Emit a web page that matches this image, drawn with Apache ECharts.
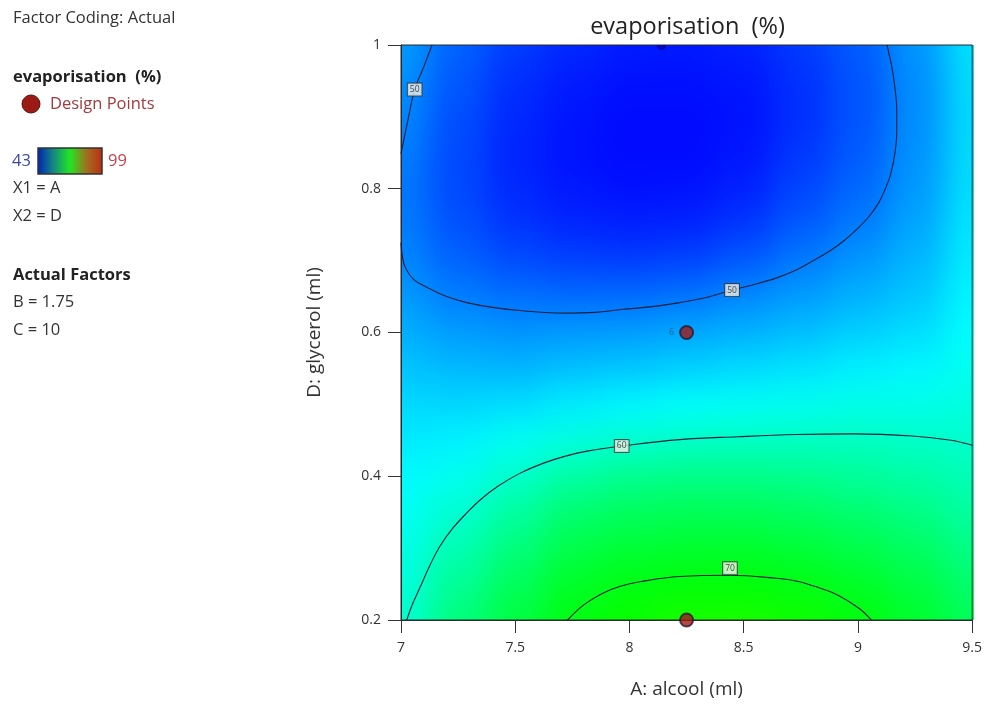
<!DOCTYPE html>
<html>
<head>
<meta charset="utf-8">
<script src="https://cdn.jsdelivr.net/npm/echarts@6/dist/echarts.min.js"></script>
<style>
  html, body { margin:0; padding:0; background:#ffffff; }
  #wrap { position:relative; width:985px; height:707px; overflow:hidden; }
  #bgClip { position:absolute; left:401px; top:45px; width:573px; height:575px; overflow:hidden; }
  #bg { position:absolute; left:-60px; top:-60px; width:693px; height:695px; filter:blur(16px); }
  #fg { position:absolute; left:0; top:0; width:985px; height:707px; }
</style>
</head>
<body>
<div id="wrap">
  <div id="bgClip"><div id="bg"></div></div>
  <div id="fg"></div>
</div>
<script>
// ---------- data ----------
// grid of A: alcool (ml) and D: glycerol (ml) where evaporisation (%) was read
const xValues = [7, 7.25, 7.5, 7.75, 8, 8.25, 8.5, 8.75, 9, 9.25, 9.5];
const yValues = [0.2, 0.25, 0.3, 0.35, 0.4, 0.45, 0.5, 0.55, 0.6, 0.65, 0.7, 0.75, 0.8, 0.85, 0.9, 0.95, 1.0];
// evaporisation (%) along each D row (x = 7 .. 9.5)
const evapD020 = [59.6, 64.3, 67.5, 70.1, 71.5, 72.2, 72.3, 71.7, 70.4, 68.6, 66.3];
const evapD025 = [59.0, 62.8, 66.0, 68.8, 70.0, 70.6, 70.6, 70.0, 68.9, 67.3, 65.0];
const evapD030 = [58.3, 61.2, 64.2, 67.0, 68.1, 68.5, 68.6, 68.0, 67.0, 65.6, 63.6];
const evapD035 = [57.6, 59.5, 62.2, 64.9, 65.9, 66.4, 66.3, 65.8, 64.9, 63.8, 62.2];
const evapD040 = [56.8, 57.9, 59.9, 62.0, 63.2, 63.6, 63.6, 63.2, 62.6, 61.9, 61.0];
const evapD045 = [55.9, 56.3, 57.6, 58.8, 59.6, 60.1, 60.3, 60.4, 60.4, 60.1, 59.8];
const evapD050 = [54.9, 54.8, 55.2, 56.0, 56.6, 57.2, 57.5, 57.8, 58.2, 58.2, 58.7];
const evapD055 = [53.8, 53.2, 53.0, 53.6, 54.0, 54.5, 55.0, 55.5, 56.2, 56.6, 57.8];
const evapD060 = [52.6, 51.6, 51.2, 51.5, 51.7, 52.2, 52.8, 53.5, 54.4, 55.2, 57.1];
const evapD065 = [51.5, 49.9, 49.2, 48.9, 49.0, 49.5, 50.5, 51.6, 52.8, 54.0, 56.5];
const evapD070 = [50.4, 48.5, 47.2, 46.6, 46.4, 46.8, 48.0, 49.7, 51.3, 53.0, 56.0];
const evapD075 = [49.8, 47.5, 45.9, 45.1, 44.8, 45.0, 46.0, 48.0, 49.8, 52.1, 55.6];
const evapD080 = [49.6, 47.0, 45.2, 44.3, 43.9, 44.0, 44.8, 46.8, 48.7, 51.4, 55.3];
const evapD085 = [49.9, 47.0, 45.0, 44.0, 43.6, 43.6, 44.2, 46.0, 48.0, 51.0, 55.1];
const evapD090 = [50.4, 47.3, 45.2, 44.1, 43.6, 43.6, 44.0, 45.6, 47.6, 50.8, 55.0];
const evapD095 = [50.9, 47.8, 45.6, 44.5, 43.9, 43.9, 44.2, 45.7, 47.6, 50.8, 55.1];
const evapD100 = [51.5, 48.4, 46.3, 45.2, 44.5, 44.4, 44.8, 46.2, 48.0, 51.2, 55.4];
const evapRows = [evapD020, evapD025, evapD030, evapD035, evapD040, evapD045, evapD050, evapD055, evapD060,
                  evapD065, evapD070, evapD075, evapD080, evapD085, evapD090, evapD095, evapD100];

// contour lines [A, D]
const contour50Left = [[7.136, 1.0], [7.1, 0.97], [7.06, 0.938], [7.03, 0.895], [7.0, 0.849]];
const contour50Loop = [[7.0, 0.725], [7.005, 0.708], [7.017, 0.692], [7.055, 0.674], [7.119, 0.662], [7.2, 0.65],
  [7.288, 0.6416], [7.4, 0.635], [7.542, 0.630], [7.712, 0.627], [7.85, 0.628], [7.966, 0.632], [8.1, 0.636],
  [8.22, 0.6416], [8.34, 0.649], [8.449, 0.659], [8.55, 0.667], [8.644, 0.676], [8.73, 0.687], [8.814, 0.7016],
  [8.88, 0.714], [8.94, 0.728], [8.99, 0.742], [9.045, 0.76], [9.09, 0.78], [9.12, 0.80], [9.143, 0.82],
  [9.162, 0.85], [9.17, 0.88], [9.17, 0.91], [9.162, 0.94], [9.148, 0.97], [9.127, 1.0]];
const contour60 = [[7.025, 0.2], [7.05, 0.222], [7.085, 0.2465], [7.125, 0.275], [7.169, 0.302], [7.225, 0.327],
  [7.288, 0.349], [7.35, 0.368], [7.424, 0.386], [7.52, 0.404], [7.627, 0.4186], [7.72, 0.428], [7.814, 0.435],
  [7.966, 0.442], [8.22, 0.451], [8.475, 0.455], [8.729, 0.458], [8.983, 0.459], [9.237, 0.456], [9.407, 0.450],
  [9.5, 0.443]];
const contour70 = [[7.729, 0.2], [7.8, 0.221], [7.881, 0.237], [7.96, 0.247], [8.051, 0.2535], [8.22, 0.2605],
  [8.441, 0.2623], [8.644, 0.258], [8.74, 0.2535], [8.814, 0.2465], [8.89, 0.238], [8.949, 0.228], [9.01, 0.215],
  [9.059, 0.2]];
const contourLabels = [[7.06, 0.938, '50'], [8.449, 0.659, '50'], [7.966, 0.442, '60'], [8.44, 0.272, '70']];

// design points
const designPoints = [[8.25, 0.6], [8.25, 0.2]];
const designReplicates = ['6', ''];
const hiddenPoints = [[8.14, 1.0]];

// axis ticks
const xMin = 7, xMax = 9.5, xStep = 0.5;
const yMin = 0.2, yMax = 1.0, yStep = 0.2;
const colourMin = 43, colourMax = 99;

// ---------- background colour field ----------
const cellData = [];
yValues.forEach((y, j) => xValues.forEach((x, i) => cellData.push([x, y, evapRows[j][i]])));

const M = 60;
const bg = echarts.init(document.getElementById('bg'), null, { renderer: 'canvas' });
bg.setOption({
  animation: false,
  grid: { left: M, top: M, width: 573, height: 575 },
  xAxis: { type: 'value', min: xMin, max: xMax, show: false },
  yAxis: { type: 'value', min: yMin, max: yMax, show: false },
  visualMap: {
    show: false, type: 'continuous', min: colourMin, max: colourMax, dimension: 2, seriesIndex: 0,
    inRange: { color: ['#0000ff', '#00ffff', '#00ff00', '#ffff00', '#ff0000'] }
  },
  series: [{
    type: 'custom',
    data: cellData,
    renderItem: function (params, api) {
      const x = api.value(0), y = api.value(1);
      const p = api.coord([x, y]);
      const s = api.size([0.25, 0.05]);
      let x0 = p[0] - s[0] / 2 - 0.5, x1 = p[0] + s[0] / 2 + 0.5;
      let y0 = p[1] - s[1] / 2 - 0.5, y1 = p[1] + s[1] / 2 + 0.5;
      if (x === xValues[0]) x0 -= M;
      if (x === xValues[xValues.length - 1]) x1 += M;
      if (y === yValues[0]) y1 += M;
      if (y === yValues[yValues.length - 1]) y0 -= M;
      return { type: 'rect', shape: { x: x0, y: y0, width: x1 - x0, height: y1 - y0 },
               style: { fill: api.visual('color') } };
    }
  }]
});

// ---------- foreground ----------
const FONT = '"Open Sans", "Noto Sans", sans-serif';
const contourStyle = { color: '#1b1f3a', width: 1.1 };
function contourSeries(d) {
  return { type: 'line', data: d, smooth: 0.4, symbol: 'none', lineStyle: contourStyle, z: 3, silent: true };
}

const fg = echarts.init(document.getElementById('fg'), null, { renderer: 'canvas' });
fg.setOption({
  backgroundColor: 'transparent',
  animation: false,
  textStyle: { fontFamily: FONT },
  grid: { left: 401, top: 45, width: 573, height: 575, show: true, borderColor: '#2b2b2b', borderWidth: 1,
          backgroundColor: 'transparent' },
  xAxis: {
    type: 'value', min: xMin, max: xMax, interval: xStep,
    name: 'A: alcool (ml)', nameLocation: 'middle', nameGap: 60,
    nameTextStyle: { fontSize: 19, color: '#333', fontFamily: FONT },
    axisLine: { show: true, onZero: false, lineStyle: { color: '#2b2b2b' } },
    axisTick: { show: true, length: 13, lineStyle: { color: '#333' } },
    axisLabel: { margin: 21, fontSize: 14, color: '#333', fontFamily: FONT },
    splitLine: { show: false }
  },
  yAxis: {
    type: 'value', min: yMin, max: yMax, interval: yStep,
    name: 'D: glycerol (ml)', nameLocation: 'middle', nameGap: 77, nameRotate: 90,
    nameTextStyle: { fontSize: 19, color: '#333', fontFamily: FONT },
    axisLine: { show: true, onZero: false, lineStyle: { color: '#2b2b2b' } },
    axisTick: { show: true, length: 13, lineStyle: { color: '#333' } },
    axisLabel: { margin: 20, fontSize: 14, color: '#333', fontFamily: FONT },
    splitLine: { show: false }
  },
  series: [
    contourSeries(contour50Left),
    contourSeries(contour50Loop),
    contourSeries(contour60),
    contourSeries(contour70),
    {
      type: 'scatter', data: contourLabels, symbol: 'rect', symbolSize: 1, z: 5, silent: true,
      itemStyle: { color: 'rgba(0,0,0,0)' },
      label: {
        show: true, position: 'inside', formatter: p => p.value[2],
        fontSize: 8.5, color: '#222', backgroundColor: '#f3f3e8', borderColor: '#333', borderWidth: 1,
        padding: [2, 2, 1, 2], fontFamily: FONT
      }
    },
    {
      type: 'custom', data: hiddenPoints, z: 4, silent: true,
      renderItem: function (params, api) {
        const p = api.coord([api.value(0), api.value(1)]);
        return { type: 'sector', shape: { cx: p[0], cy: p[1], r: 5, r0: 0, startAngle: 0, endAngle: Math.PI, clockwise: true },
                 style: { fill: '#0808b8' } };
      }
    },
    {
      type: 'scatter', z: 6, silent: true,
      data: designPoints.map((d, i) => ({
        value: d,
        label: { show: designReplicates[i] !== '', formatter: designReplicates[i] || ' ' }
      })),
      symbol: 'circle', symbolSize: 13,
      itemStyle: { color: '#a01a16', borderColor: '#2a1830', borderWidth: 2 },
      label: { position: 'left', distance: 5, fontSize: 9, color: '#3e4c6e', fontFamily: FONT }
    }
  ],
  graphic: [
    { type: 'text', style: { text: 'evaporisation  (%)', x: 687.5, y: 27, textAlign: 'center', textVerticalAlign: 'middle',
        font: '23.5px ' + FONT, fill: '#222' } },
    { type: 'text', style: { text: 'Factor Coding: Actual', x: 13, y: 18, textVerticalAlign: 'middle',
        font: '16.5px ' + FONT, fill: '#333' } },
    { type: 'text', style: { text: 'evaporisation  (%)', x: 13, y: 77, textVerticalAlign: 'middle',
        font: 'bold 16.5px ' + FONT, fill: '#222' } },
    { type: 'circle', shape: { cx: 31, cy: 104, r: 9 }, style: { fill: '#9c1a14', stroke: '#5a1010', lineWidth: 1 } },
    { type: 'text', style: { text: 'Design Points', x: 50, y: 104, textVerticalAlign: 'middle',
        font: '16.5px ' + FONT, fill: '#a23a3e' } },
    { type: 'text', style: { text: String(colourMin), x: 12, y: 161, textVerticalAlign: 'middle',
        font: '16.5px ' + FONT, fill: '#3c4a9c' } },
    { type: 'rect', shape: { x: 38, y: 148, width: 64, height: 26 },
      style: { stroke: '#333', lineWidth: 1.5,
        fill: new echarts.graphic.LinearGradient(0, 0, 1, 0, [
          { offset: 0, color: '#0020b8' }, { offset: 0.25, color: '#138a80' }, { offset: 0.5, color: '#22e622' },
          { offset: 0.75, color: '#a07020' }, { offset: 1, color: '#c02a10' }]) } },
    { type: 'text', style: { text: String(colourMax), x: 108, y: 161, textVerticalAlign: 'middle',
        font: '16.5px ' + FONT, fill: '#c8404a' } },
    { type: 'text', style: { text: 'X1 = A', x: 13, y: 188, textVerticalAlign: 'middle', font: '16.5px ' + FONT, fill: '#333' } },
    { type: 'text', style: { text: 'X2 = D', x: 13, y: 216, textVerticalAlign: 'middle', font: '16.5px ' + FONT, fill: '#333' } },
    { type: 'text', style: { text: 'Actual Factors', x: 13, y: 275, textVerticalAlign: 'middle', font: 'bold 16.5px ' + FONT, fill: '#222' } },
    { type: 'text', style: { text: 'B = 1.75', x: 13, y: 302, textVerticalAlign: 'middle', font: '16.5px ' + FONT, fill: '#333' } },
    { type: 'text', style: { text: 'C = 10', x: 13, y: 330, textVerticalAlign: 'middle', font: '16.5px ' + FONT, fill: '#333' } }
  ]
});
</script>
</body>
</html>
